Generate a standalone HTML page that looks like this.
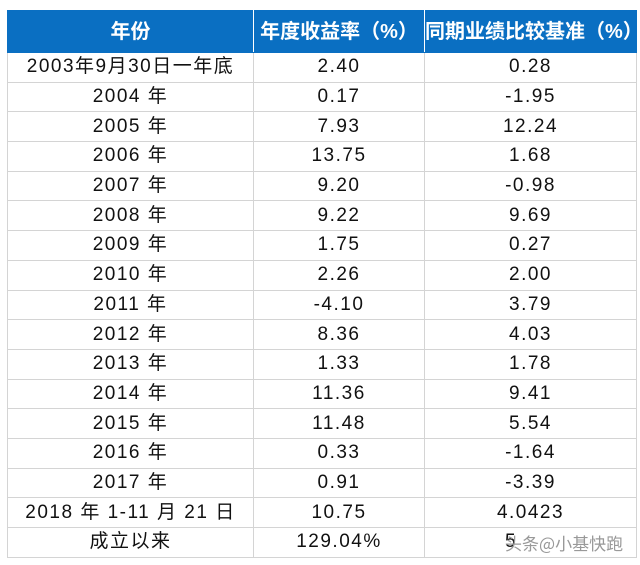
<!DOCTYPE html>
<html><head><meta charset="utf-8"><style>
body{margin:0;background:#fff;width:640px;height:565px;overflow:hidden}
table{position:absolute;left:7px;top:10px;border-collapse:collapse;table-layout:fixed;width:629px;
font-family:"Liberation Sans","Noto Sans CJK SC",sans-serif;font-size:19px;color:#111}
td,th{border:1px solid #d4d4d4;text-align:center;padding:0;height:28.7px;line-height:28px;overflow:hidden;white-space:nowrap}
th{background:#0a6fc2;color:#fff;height:41px;font-size:20px;font-weight:bold;border-color:#0a6fc2;border-right:1px solid #fff}
th:last-child{border-right-color:#0a6fc2}
td{letter-spacing:1.5px;transform-origin:center}
.wm{position:absolute;left:505px;top:530px;font-family:"Noto Sans CJK SC",sans-serif;font-size:17px;color:#999}
</style></head><body>
<table>
<colgroup><col style="width:246px"><col style="width:171px"><col style="width:212px"></colgroup>
<tr><th>年份</th><th>年度收益率（%）</th><th>同期业绩比较基准（%）</th></tr>
<tr><td>2003年9月30日一年底</td><td>2.40</td><td>0.28</td></tr>
<tr><td>2004 年</td><td>0.17</td><td>-1.95</td></tr>
<tr><td>2005 年</td><td>7.93</td><td>12.24</td></tr>
<tr><td>2006 年</td><td>13.75</td><td>1.68</td></tr>
<tr><td>2007 年</td><td>9.20</td><td>-0.98</td></tr>
<tr><td>2008 年</td><td>9.22</td><td>9.69</td></tr>
<tr><td>2009 年</td><td>1.75</td><td>0.27</td></tr>
<tr><td>2010 年</td><td>2.26</td><td>2.00</td></tr>
<tr><td>2011 年</td><td>-4.10</td><td>3.79</td></tr>
<tr><td>2012 年</td><td>8.36</td><td>4.03</td></tr>
<tr><td>2013 年</td><td>1.33</td><td>1.78</td></tr>
<tr><td>2014 年</td><td>11.36</td><td>9.41</td></tr>
<tr><td>2015 年</td><td>11.48</td><td>5.54</td></tr>
<tr><td>2016 年</td><td>0.33</td><td>-1.64</td></tr>
<tr><td>2017 年</td><td>0.91</td><td>-3.39</td></tr>
<tr><td>2018 年 1-11 月 21 日</td><td>10.75</td><td>4.0423</td></tr>
<tr><td>成立以来</td><td>129.04%</td><td style="text-align:left;padding-left:80px">5</td></tr>
</table>
<div class="wm">头条@小基快跑</div>
</body></html>
